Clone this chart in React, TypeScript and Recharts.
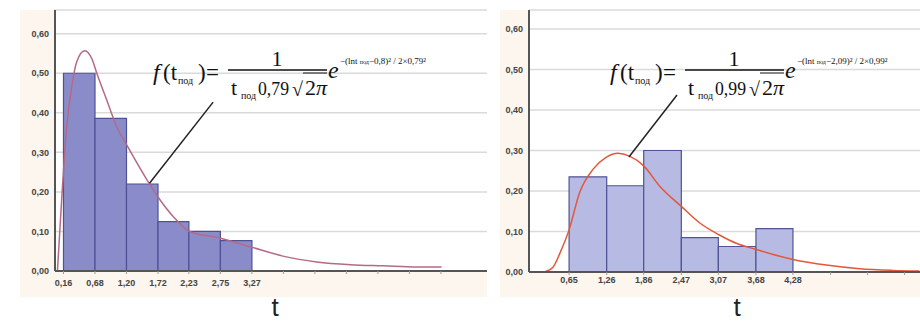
import {
  ComposedChart,
  Line,
  XAxis,
  YAxis,
  CartesianGrid,
  ReferenceArea,
  ReferenceLine,
} from 'recharts';

// left histogram: bin edges, relative frequencies, fitted curve
const leftEdges = [0.16, 0.68, 1.2, 1.72, 2.23, 2.75, 3.27];
const leftEdgeLabels = ['0,16', '0,68', '1,20', '1,72', '2,23', '2,75', '3,27'];
const leftExtraTicks = [3.79, 4.31, 4.83, 5.35, 5.87, 6.39];
const leftFreq = [0.5, 0.386, 0.22, 0.125, 0.1, 0.077];
const leftCurveT = [0.06, 0.13, 0.21, 0.3, 0.38, 0.51, 0.63, 0.71, 0.88, 1.04, 1.21, 1.54, 1.72, 1.98, 2.24, 2.75, 3.27, 3.8, 4.34, 4.9, 5.44, 5.99, 6.4];
const leftCurveV = [0, 0.18, 0.36, 0.47, 0.53, 0.557, 0.536, 0.5, 0.43, 0.364, 0.317, 0.23, 0.187, 0.136, 0.1, 0.083, 0.06, 0.037, 0.023, 0.016, 0.013, 0.01, 0.01];

// right histogram
const rightEdges = [0.65, 1.26, 1.86, 2.47, 3.07, 3.68, 4.28];
const rightEdgeLabels = ['0,65', '1,26', '1,86', '2,47', '3,07', '3,68', '4,28'];
const rightExtraTicks = [4.89, 5.49, 6.09];
const rightFreq = [0.235, 0.213, 0.3, 0.085, 0.063, 0.107];
const rightCurveT = [0.25, 0.39, 0.5, 0.65, 0.82, 1.04, 1.25, 1.44, 1.63, 1.86, 2.12, 2.47, 2.77, 3.08, 3.36, 3.67, 4.28, 4.82, 5.36, 5.9, 6.33];
const rightCurveV = [0, 0.012, 0.046, 0.104, 0.196, 0.254, 0.283, 0.293, 0.286, 0.262, 0.212, 0.162, 0.121, 0.092, 0.071, 0.056, 0.031, 0.017, 0.008, 0.004, 0.0025];

const yTicks = [0, 0.1, 0.2, 0.3, 0.4, 0.5, 0.6];

const fmtY = (v: number) => v.toFixed(2).replace('.', ',');

const SERIF = 'Liberation Serif, Times New Roman, serif';
const SANS = 'Liberation Sans';

interface PanelProps {
  width: number;
  yAxisWidth: number;
  xDomain: [number, number];
  yMax: number;
  bottom: number;
  edges: number[];
  labels: string[];
  extra: number[];
  freq: number[];
  curveT: number[];
  curveV: number[];
  barFill: string;
  barStroke: string;
  curveColor: string;
  leader: [[number, number], [number, number]];
  tickDy: number;
}

function Panel(p: PanelProps) {
  const data = p.curveT.map((t, i) => ({ t, v: p.curveV[i] }));
  const fmtX = (v: number) => {
    const i = p.edges.indexOf(v);
    return i >= 0 ? p.labels[i] : '';
  };
  return (
    <ComposedChart
      width={p.width}
      height={322}
      data={data}
      margin={{ top: 10, right: 0, bottom: p.bottom - 30, left: 0 }}
    >
      <CartesianGrid vertical={false} stroke="#dadada" strokeWidth={1.5} fill="#ffffff" fillOpacity={1} />
      <XAxis
        type="number"
        dataKey="t"
        domain={p.xDomain}
        allowDataOverflow
        ticks={[...p.edges, ...p.extra]}
        tickFormatter={fmtX}
        interval={0}
        height={30}
        stroke="#555"
        strokeWidth={2}
        tickSize={3}
        tickLine={{ stroke: '#999', strokeWidth: 1 }}
        tick={{ fontSize: 9, fill: '#444', fontFamily: SANS, fontWeight: 600, dy: p.tickDy }}
      />
      <YAxis
        type="number"
        domain={[0, p.yMax]}
        allowDataOverflow
        ticks={yTicks}
        tickFormatter={fmtY}
        width={p.yAxisWidth}
        stroke="#555"
        strokeWidth={2}
        tickSize={4}
        tickLine={false}
        tick={{ fontSize: 9, fill: '#444', fontFamily: SANS, fontWeight: 600 }}
      />
      {p.freq.map((f, i) => (
        <ReferenceArea
          key={i}
          x1={p.edges[i]}
          x2={p.edges[i + 1] ?? p.edges[i] + (p.edges[1] - p.edges[0])}
          y1={0}
          y2={f}
          fill={p.barFill}
          fillOpacity={1}
          stroke={p.barStroke}
          strokeWidth={1.2}
        />
      ))}
      <Line
        dataKey="v"
        type="monotone"
        dot={false}
        stroke={p.curveColor}
        strokeWidth={1.5}
        isAnimationActive={false}
      />
      <ReferenceLine
        segment={[
          { x: p.leader[0][0], y: p.leader[0][1] },
          { x: p.leader[1][0], y: p.leader[1][1] },
        ]}
        stroke="#222"
        strokeWidth={1.5}
      />
    </ComposedChart>
  );
}

function Formula({ x, mu, sigma }: { x: number; mu: string; sigma: string }) {
  return (
    <g fill="#111" fontFamily={SERIF}>
      <text x={x} y={80} fontSize={24} fontStyle="italic">f</text>
      <text x={x + 10} y={80} fontSize={23}>(t</text>
      <text x={x + 25} y={84} fontSize={10}>под</text>
      <text x={x + 45} y={80} fontSize={23}>)</text>
      <text x={x + 53} y={80} fontSize={23}>=</text>
      <text x={x + 124} y={66} fontSize={22} textAnchor="middle">1</text>
      <line x1={x + 75} x2={x + 174} y1={70} y2={70} stroke="#111" strokeWidth={1.3} />
      <text x={x + 78} y={95} fontSize={22}>t</text>
      <text x={x + 88} y={99} fontSize={10}>под</text>
      <text x={x + 105} y={95} fontSize={19} textLength={31} lengthAdjust="spacingAndGlyphs">{sigma}</text>
      <text x={x + 139} y={96} fontSize={20}>√</text>
      <line x1={x + 150} x2={x + 174} y1={73} y2={73} stroke="#111" strokeWidth={1} />
      <text x={x + 152} y={95} fontSize={22}>2</text>
      <text x={x + 163} y={95} fontSize={22} fontStyle="italic">π</text>
      <text x={x + 175} y={78} fontSize={24} fontStyle="italic">e</text>
      <text x={x + 187} y={64} fontSize={9}>
        −(lnt <tspan fontSize={6}>под</tspan>−{mu})² / 2×{sigma}²
      </text>
    </g>
  );
}

export default function App() {
  return (
    <div style={{ position: 'fixed', left: 0, top: 0, width: 920, height: 322, background: '#fff', overflow: 'hidden' }}>
      <div style={{ position: 'absolute', left: 20, top: 10, width: 467, height: 287, background: '#fdf6ee' }} />
      <div style={{ position: 'absolute', left: 500, top: 10, width: 420, height: 287, background: '#fdf6ee' }} />
      <div style={{ position: 'absolute', left: 0, top: 0 }}>
        <Panel
          width={487}
          yAxisWidth={55}
          xDomain={[0.02, 7.15]}
          yMax={0.66}
          bottom={51}
          edges={leftEdges}
          labels={leftEdgeLabels}
          extra={leftExtraTicks}
          freq={leftFreq}
          curveT={leftCurveT}
          curveV={leftCurveV}
          barFill="#8a8cca"
          barStroke="#4f5196"
          curveColor="#b46a86"
          leader={[[1.58, 0.222], [2.63, 0.427]]}
          tickDy={4}
        />
      </div>
      <div style={{ position: 'absolute', left: 487, top: 0 }}>
        <Panel
          width={433}
          yAxisWidth={42}
          xDomain={[0, 6.34]}
          yMax={0.647}
          bottom={50}
          edges={rightEdges}
          labels={rightEdgeLabels}
          extra={rightExtraTicks}
          freq={rightFreq}
          curveT={rightCurveT}
          curveV={rightCurveV}
          barFill="#b7bbe3"
          barStroke="#4f5394"
          curveColor="#e2583a"
          leader={[[1.62, 0.284], [2.4, 0.437]]}
          tickDy={0}
        />
      </div>
      <svg width={920} height={322} style={{ position: 'absolute', left: 0, top: 0, pointerEvents: 'none' }}>
        <Formula x={153} mu="0,8" sigma="0,79" />
        <Formula x={610} mu="2,09" sigma="0,99" />
        <text x={275} y={316} fontSize={26} textAnchor="middle" fontFamily={SANS} fill="#222">t</text>
        <text x={737} y={316} fontSize={26} textAnchor="middle" fontFamily={SANS} fill="#222">t</text>
      </svg>
    </div>
  );
}
